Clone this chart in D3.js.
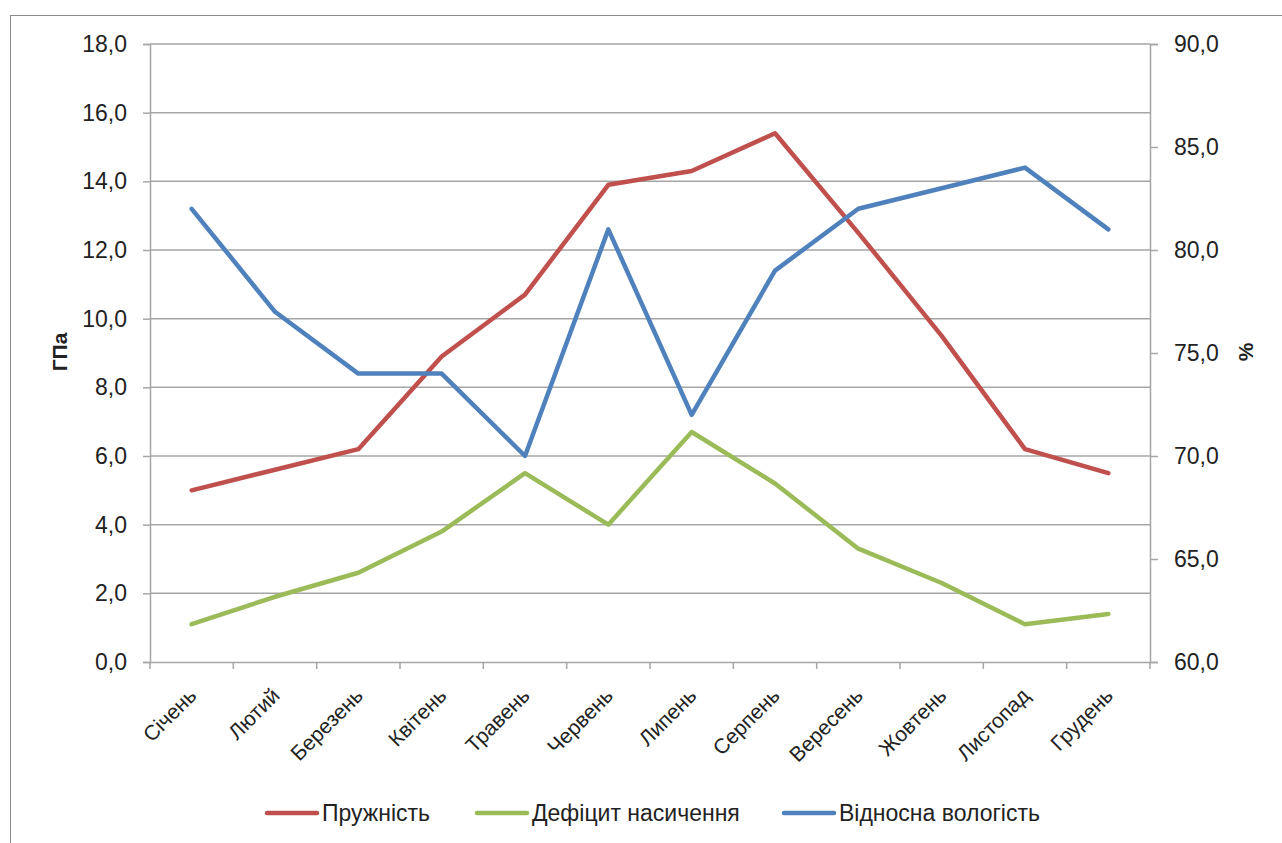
<!DOCTYPE html>
<html>
<head>
<meta charset="utf-8">
<script src="https://cdn.jsdelivr.net/npm/d3@7"></script>
<style>
  body { margin: 0; background: #fff; }
  svg { display: block; }
  text { font-family: 'Liberation Sans', Arial, sans-serif; fill: #222; }
</style>
</head>
<body>
<svg id="chart" width="1282" height="843"></svg>
<script>
var months = ["Січень", "Лютий", "Березень", "Квітень", "Травень", "Червень",
              "Липень", "Серпень", "Вересень", "Жовтень", "Листопад", "Грудень"];
var pruzhnist = [5.0, 5.6, 6.2, 8.9, 10.7, 13.9, 14.3, 15.4, 12.5, 9.5, 6.2, 5.5];
var deficit = [1.1, 1.9, 2.6, 3.8, 5.5, 4.0, 6.7, 5.2, 3.3, 2.3, 1.1, 1.4];
var vologist = [82, 77, 74, 74, 70, 81, 72, 79, 82, 83, 84, 81];
var leftTicks = [0, 2, 4, 6, 8, 10, 12, 14, 16, 18];
var rightTicks = [60, 65, 70, 75, 80, 85, 90];

var series = [
  { name: "Пружність", values: pruzhnist, color: "#C0504D", axis: "left" },
  { name: "Дефіцит насичення", values: deficit, color: "#9BBB59", axis: "left" },
  { name: "Відносна вологість", values: vologist, color: "#4F81BD", axis: "right" }
];

var plotL = 150, plotR = 1150, plotT = 44, plotB = 662;
var fmt = function(d) { return d3.format(".1f")(d).replace(".", ","); };

var svg = d3.select("#chart");

// chart frame
svg.append("rect")
    .attr("x", 10.5).attr("y", 15.5)
    .attr("width", 1290).attr("height", 850)
    .attr("fill", "none").attr("stroke", "#8c8c8c");

var x = d3.scaleBand().domain(months).range([plotL, plotR]);
var yL = d3.scaleLinear().domain([0, 18]).range([plotB, plotT]);
var yR = d3.scaleLinear().domain([60, 90]).range([plotB, plotT]);

// gridlines
svg.append("g")
    .selectAll("line")
    .data(leftTicks.slice(1))
    .enter().append("line")
    .attr("x1", plotL).attr("x2", plotR)
    .attr("y1", function(d) { return yL(d); })
    .attr("y2", function(d) { return yL(d); })
    .attr("stroke", "#a6a6a6").attr("stroke-width", 1.5);

// left axis
var gL = svg.append("g")
    .attr("transform", "translate(" + plotL + ",0)")
    .call(d3.axisLeft(yL).tickValues(leftTicks).tickFormat(fmt).tickSize(7).tickPadding(16));
gL.selectAll("text").style("font-size", "23px").attr("font-family", null);

// right axis
var gR = svg.append("g")
    .attr("transform", "translate(" + plotR + ",0)")
    .call(d3.axisRight(yR).tickValues(rightTicks).tickFormat(fmt).tickSize(8).tickPadding(16));
gR.selectAll("text").style("font-size", "23px").attr("font-family", null);

// x axis
var gX = svg.append("g")
    .attr("transform", "translate(0," + plotB + ")")
    .call(d3.axisBottom(x).tickSize(0).tickPadding(0));
gX.selectAll(".tick text")
    .attr("font-family", null)
    .style("font-size", "21px")
    .attr("text-anchor", "end")
    .attr("x", 0).attr("y", 0).attr("dy", 0)
    .attr("transform", "translate(6,35) rotate(-45)");

// x ticks at band edges
gX.append("g")
    .selectAll("line")
    .data(d3.range(months.length + 1))
    .enter().append("line")
    .attr("x1", function(i) { return plotL + i * x.step(); })
    .attr("x2", function(i) { return plotL + i * x.step(); })
    .attr("y1", 0).attr("y2", 7)
    .attr("stroke", "#a6a6a6").attr("stroke-width", 1.5);

svg.selectAll(".domain").attr("stroke", "#a6a6a6").attr("stroke-width", 1.5);
svg.selectAll(".tick line").attr("stroke", "#a6a6a6").attr("stroke-width", 1.5);

// lines
series.forEach(function(s) {
  var yScale = s.axis === "left" ? yL : yR;
  var line = d3.line()
      .x(function(d, i) { return x(months[i]) + x.bandwidth() / 2; })
      .y(function(d) { return yScale(d); });
  svg.append("path")
      .datum(s.values)
      .attr("d", line)
      .attr("fill", "none")
      .attr("stroke", s.color)
      .attr("stroke-width", 4.5)
      .attr("stroke-linejoin", "round")
      .attr("stroke-linecap", "round");
});

// axis titles
svg.append("text")
    .attr("transform", "translate(67,352) rotate(-90)")
    .attr("text-anchor", "middle")
    .style("font-size", "21px").style("font-weight", "bold")
    .text("ГПа");
svg.append("text")
    .attr("transform", "translate(1253,352) rotate(-90)")
    .attr("text-anchor", "middle")
    .style("font-size", "21px").style("font-weight", "bold")
    .text("%");

// legend
var legendX = [265, 475, 782];
var legend = svg.append("g")
    .selectAll("g")
    .data(series)
    .enter().append("g")
    .attr("transform", function(d, i) { return "translate(" + legendX[i] + ",813)"; });
legend.append("line")
    .attr("x1", 2).attr("x2", 52)
    .attr("stroke", function(d) { return d.color; })
    .attr("stroke-width", 4.5)
    .attr("stroke-linecap", "round");
legend.append("text")
    .attr("x", 57).attr("dy", "0.35em")
    .style("font-size", "23px")
    .text(function(d) { return d.name; });
</script>
</body>
</html>
